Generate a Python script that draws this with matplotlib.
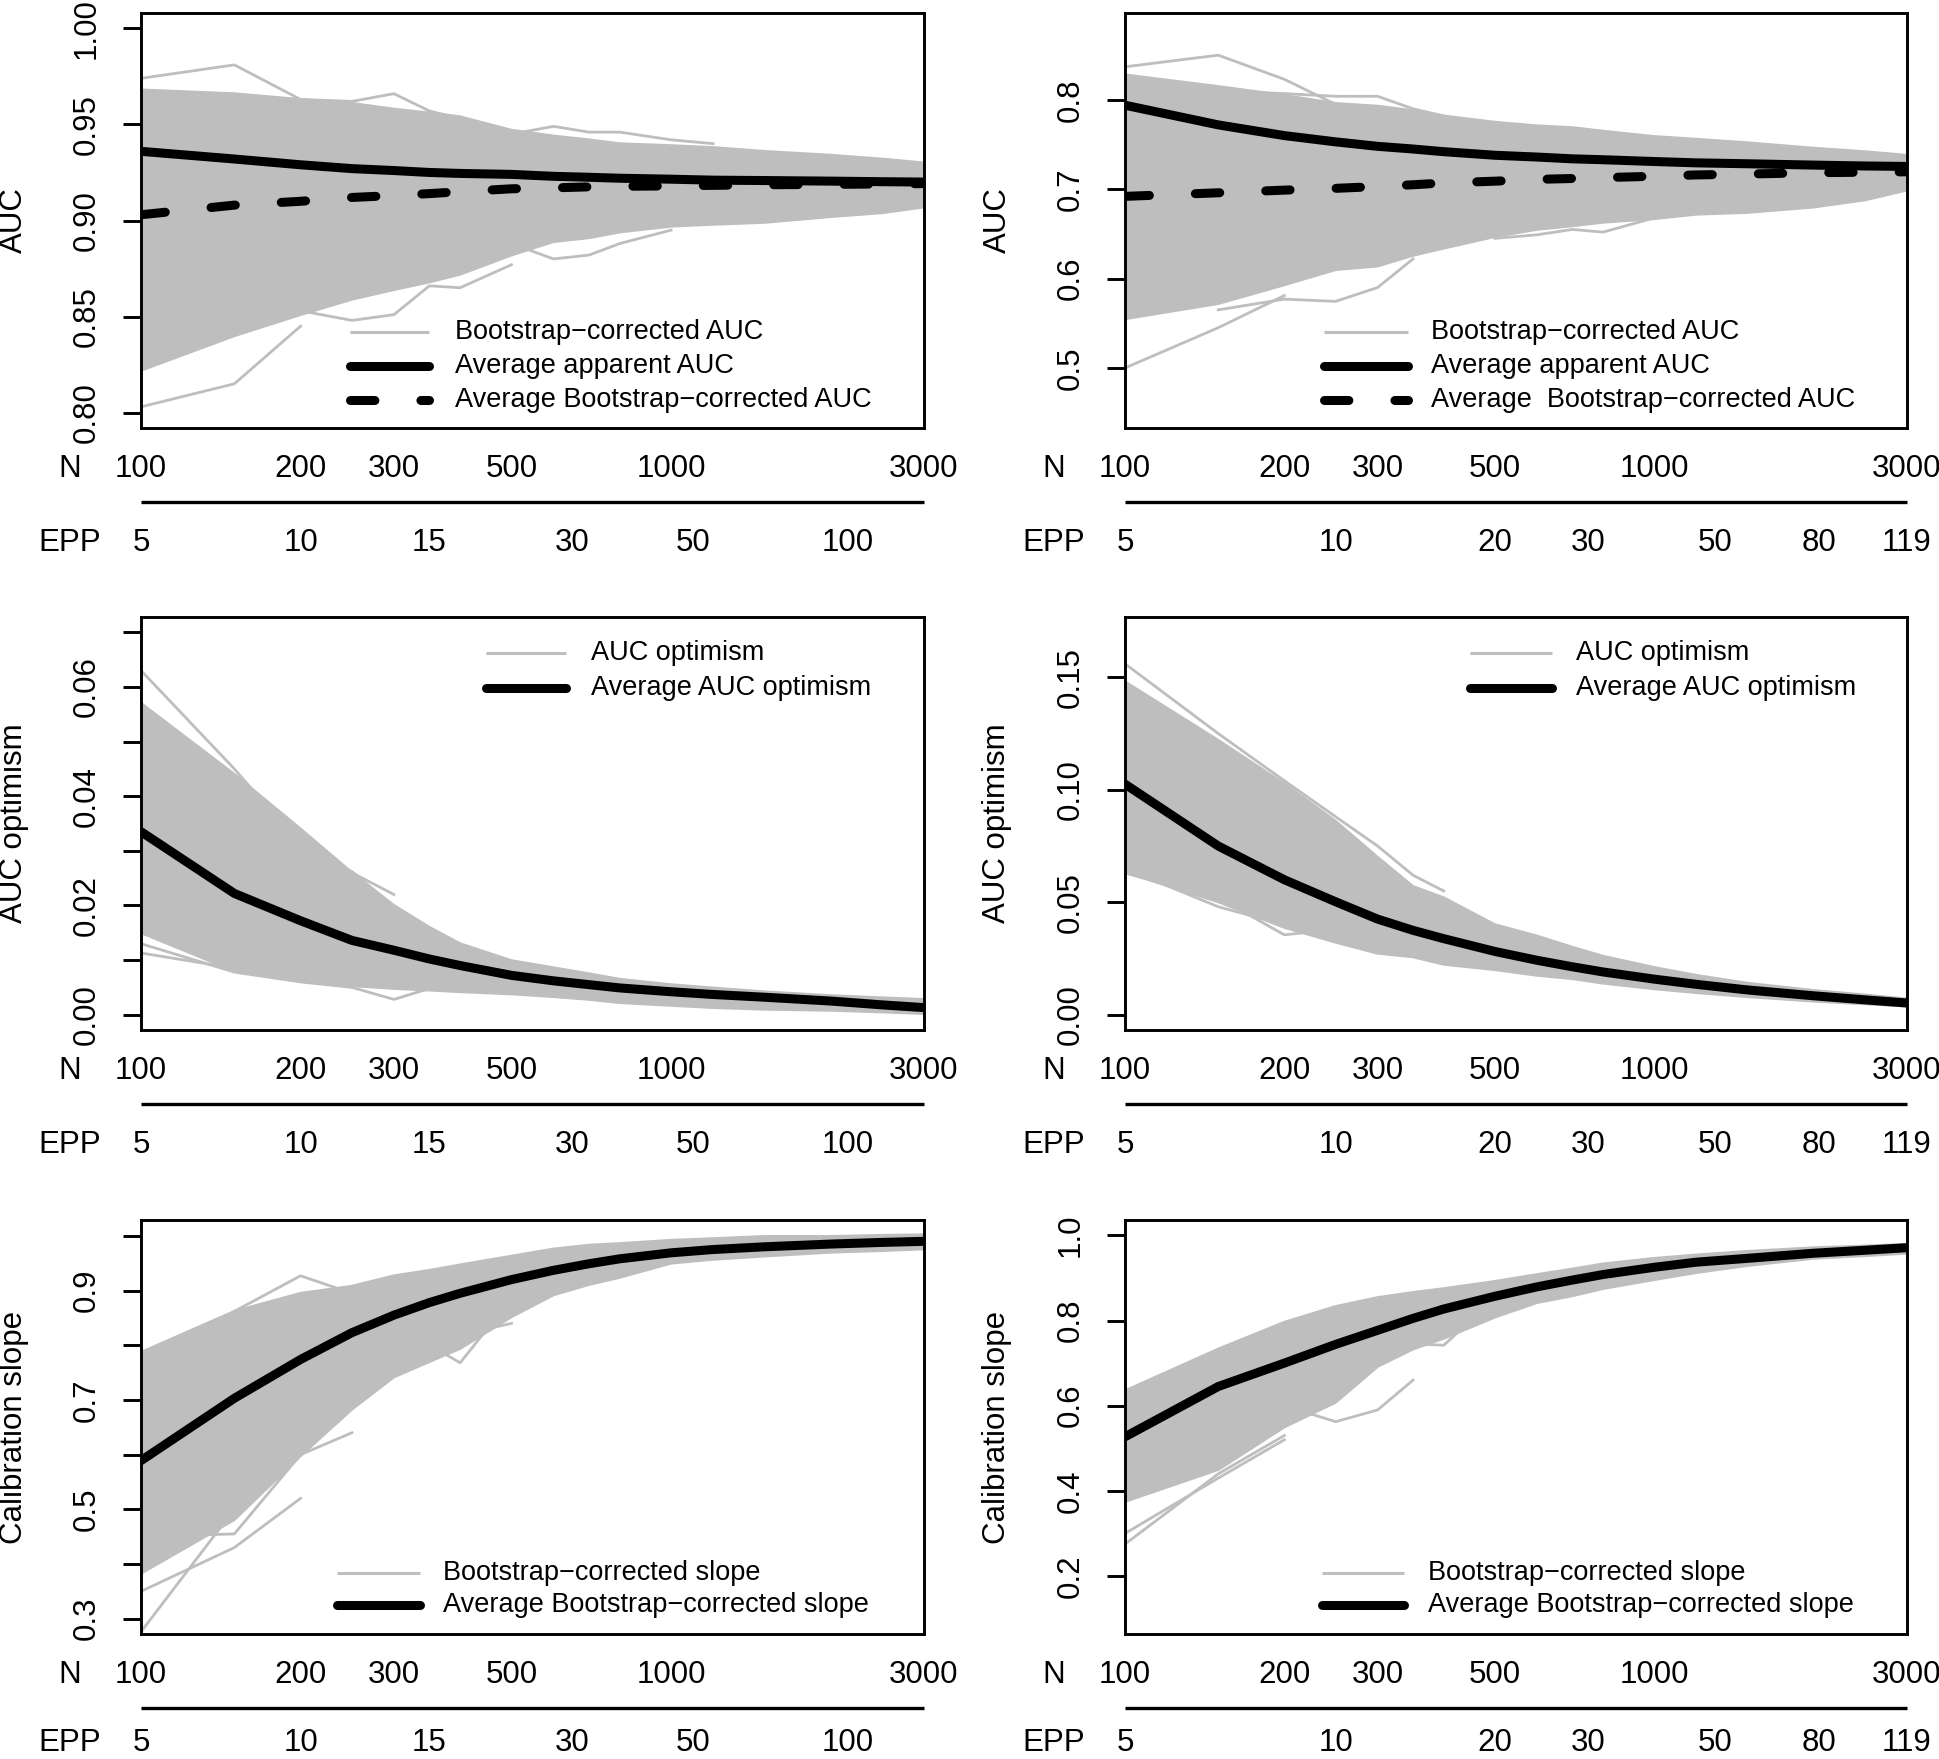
import matplotlib
matplotlib.use("Agg")
import matplotlib.pyplot as plt
import matplotlib.transforms as mtransforms
from matplotlib.ticker import NullLocator

plt.rcParams['font.family'] = ['Liberation Sans', 'DejaVu Sans']

# ---------------- data ----------------
N_grid = [100, 150, 200, 250, 300, 350, 400, 500, 600, 700, 800, 1000, 1200, 1500, 2000, 2500, 3000]
N_tick_vals = [100, 200, 300, 500, 1000, 3000]
N_tick_labels = ["100", "200", "300", "500", "1000", "3000"]
EPP_left_pos = [100, 200, 350, 650, 1100, 2150]
EPP_left_labels = ["5", "10", "15", "30", "50", "100"]
EPP_right_pos = [100, 250, 500, 750, 1300, 2050, 3000]
EPP_right_labels = ["5", "10", "20", "30", "50", "80", "119"]

# Panel A (top-left): AUC
A_apparent = [0.936, 0.932, 0.929, 0.927, 0.926, 0.925, 0.9245, 0.924, 0.923, 0.9225, 0.922, 0.9215, 0.921, 0.9208, 0.9205, 0.9202, 0.920]
A_corrected = [0.903, 0.908, 0.910, 0.912, 0.913, 0.914, 0.915, 0.9165, 0.917, 0.9175, 0.9178, 0.918, 0.9183, 0.9186, 0.9188, 0.919, 0.9192]
A_upper = [0.968, 0.966, 0.963, 0.961, 0.958, 0.956, 0.954, 0.947, 0.944, 0.942, 0.940, 0.939, 0.938, 0.936, 0.934, 0.932, 0.930]
A_lower = [0.822, 0.840, 0.851, 0.859, 0.864, 0.868, 0.872, 0.882, 0.889, 0.891, 0.894, 0.897, 0.898, 0.899, 0.902, 0.904, 0.907]
A_out_n = [[100, 150, 200, 250, 300, 350, 400], [100, 150, 200], [200, 250, 300, 350, 400, 500],
           [500, 600, 700, 800, 1000], [500, 600, 700, 800, 1000, 1200]]
A_out_v = [[0.974, 0.981, 0.963, 0.962, 0.966, 0.957, 0.953], [0.803, 0.815, 0.845],
           [0.853, 0.848, 0.851, 0.866, 0.865, 0.877], [0.888, 0.880, 0.882, 0.888, 0.895],
           [0.945, 0.949, 0.946, 0.946, 0.942, 0.940]]
A_yticks = [0.80, 0.85, 0.90, 0.95, 1.00]
A_ylabels = ["0.80", "0.85", "0.90", "0.95", "1.00"]
A_legend = ["Bootstrap\u2212corrected AUC", "Average apparent AUC", "Average Bootstrap\u2212corrected AUC"]

# Panel B (top-right): AUC
B_apparent = [0.794, 0.772, 0.760, 0.753, 0.748, 0.745, 0.742, 0.738, 0.736, 0.734, 0.733, 0.731, 0.7295, 0.7285, 0.727, 0.726, 0.7255]
B_corrected = [0.692, 0.696, 0.699, 0.701, 0.703, 0.705, 0.707, 0.709, 0.711, 0.712, 0.713, 0.7145, 0.716, 0.717, 0.7185, 0.719, 0.7195]
B_upper = [0.828, 0.815, 0.805, 0.796, 0.793, 0.788, 0.782, 0.775, 0.771, 0.769, 0.765, 0.759, 0.756, 0.752, 0.746, 0.742, 0.738]
B_lower = [0.555, 0.572, 0.593, 0.610, 0.614, 0.626, 0.634, 0.647, 0.655, 0.659, 0.663, 0.667, 0.672, 0.674, 0.680, 0.688, 0.699]
B_out_n = [[100, 150, 200, 250, 300], [150, 200, 250, 300, 350, 400], [100, 150, 200],
           [150, 200, 250, 300, 350], [500, 600, 700, 800, 1000]]
B_out_v = [[0.837, 0.850, 0.823, 0.795, 0.790], [0.810, 0.807, 0.804, 0.804, 0.790, 0.782],
           [0.500, 0.545, 0.581], [0.565, 0.577, 0.5745, 0.590, 0.622],
           [0.645, 0.649, 0.655, 0.652, 0.668]]
B_yticks = [0.5, 0.6, 0.7, 0.8]
B_ylabels = ["0.5", "0.6", "0.7", "0.8"]
B_legend = ["Bootstrap\u2212corrected AUC", "Average apparent AUC", "Average  Bootstrap\u2212corrected AUC"]

# Panel C (middle-left): AUC optimism
C_avg = [0.0335, 0.0222, 0.0172, 0.0136, 0.0118, 0.0102, 0.0090, 0.0072, 0.0062, 0.0055, 0.0049, 0.0042, 0.0037, 0.0032, 0.0025, 0.0018, 0.0013]
C_upper = [0.057, 0.044, 0.034, 0.026, 0.020, 0.016, 0.013, 0.0099, 0.0086, 0.0075, 0.0065, 0.0055, 0.0049, 0.0042, 0.0035, 0.0031, 0.0028]
C_lower = [0.015, 0.008, 0.0063, 0.0053, 0.0048, 0.0045, 0.0042, 0.0038, 0.0033, 0.0028, 0.0022, 0.0017, 0.0013, 0.0010, 0.0008, 0.0005, 0.0002]
C_out_n = [[100, 150, 200, 250, 300], [150, 200, 250, 300, 350, 400], [100, 150, 200, 250, 300, 350],
           [100, 150, 200]]
C_out_v = [[0.063, 0.045, 0.031, 0.026, 0.022], [0.040, 0.030, 0.0262, 0.0197, 0.015, 0.012],
           [0.013, 0.0078, 0.0060, 0.0050, 0.0028, 0.0048], [0.0113, 0.0085, 0.0065]]
C_yticks = [0.00, 0.01, 0.02, 0.03, 0.04, 0.05, 0.06, 0.07]
C_ylabels = ["0.00", "", "0.02", "", "0.04", "", "0.06", ""]
C_legend = ["AUC optimism", "Average AUC optimism"]

# Panel D (middle-right): AUC optimism
D_avg = [0.1025, 0.0750, 0.0600, 0.0502, 0.0425, 0.0375, 0.0338, 0.0281, 0.0242, 0.0213, 0.0190, 0.0158, 0.0135, 0.0110, 0.0084, 0.0066, 0.0052]
D_upper = [0.148, 0.122, 0.1026, 0.086, 0.070, 0.057, 0.052, 0.040, 0.035, 0.030, 0.026, 0.021, 0.0175, 0.0140, 0.0108, 0.0088, 0.0070]
D_lower = [0.0633, 0.0502, 0.0388, 0.0322, 0.0273, 0.0257, 0.0224, 0.020, 0.0175, 0.016, 0.014, 0.0115, 0.0098, 0.0080, 0.0060, 0.0048, 0.0038]
D_out_n = [[100, 150, 200, 250, 300, 350, 400], [100, 150, 200, 250], [100, 150, 200]]
D_out_v = [[0.156, 0.125, 0.104, 0.088, 0.075, 0.062, 0.055], [0.063, 0.052, 0.0355, 0.038],
           [0.065, 0.048, 0.040]]
D_yticks = [0.00, 0.05, 0.10, 0.15]
D_ylabels = ["0.00", "0.05", "0.10", "0.15"]
D_legend = ["AUC optimism", "Average AUC optimism"]

# Panel E (bottom-left): calibration slope
E_avg = [0.589, 0.703, 0.774, 0.823, 0.855, 0.878, 0.895, 0.920, 0.937, 0.949, 0.958, 0.969, 0.975, 0.980, 0.985, 0.988, 0.990]
E_upper = [0.787, 0.862, 0.895, 0.908, 0.927, 0.937, 0.947, 0.963, 0.976, 0.983, 0.986, 0.992, 0.995, 0.999, 0.999, 1.001, 1.002]
E_lower = [0.383, 0.481, 0.598, 0.683, 0.742, 0.770, 0.794, 0.852, 0.892, 0.911, 0.924, 0.950, 0.957, 0.963, 0.970, 0.973, 0.976]
E_out_n = [[100, 150, 200], [100, 150, 200, 250], [150, 200, 250], [300, 350, 400, 450, 500], [100, 150, 200]]
E_out_v = [[0.276, 0.50, 0.61], [0.45, 0.455, 0.60, 0.64], [0.862, 0.927, 0.895],
           [0.79, 0.80, 0.768, 0.83, 0.84], [0.35, 0.43, 0.52]]
E_yticks = [0.3, 0.4, 0.5, 0.6, 0.7, 0.8, 0.9, 1.0]
E_ylabels = ["0.3", "", "0.5", "", "0.7", "", "0.9", ""]
E_legend = ["Bootstrap\u2212corrected slope", "Average Bootstrap\u2212corrected slope"]

# Panel F (bottom-right): calibration slope
F_avg = [0.527, 0.645, 0.700, 0.744, 0.777, 0.805, 0.827, 0.857, 0.879, 0.895, 0.908, 0.925, 0.937, 0.946, 0.958, 0.965, 0.971]
F_upper = [0.635, 0.733, 0.796, 0.833, 0.854, 0.866, 0.875, 0.892, 0.908, 0.921, 0.933, 0.946, 0.954, 0.9625, 0.971, 0.975, 0.979]
F_lower = [0.375, 0.45, 0.55, 0.608, 0.692, 0.733, 0.758, 0.808, 0.842, 0.858, 0.875, 0.896, 0.9125, 0.929, 0.946, 0.952, 0.958]
F_out_n = [[100, 150, 200], [200, 250, 300, 350], [350, 400, 450, 500], [100, 150, 200]]
F_out_v = [[0.275, 0.44, 0.53], [0.60, 0.5625, 0.59, 0.66], [0.745, 0.742, 0.80, 0.82], [0.30, 0.43, 0.52]]
F_yticks = [0.2, 0.4, 0.6, 0.8, 1.0]
F_ylabels = ["0.2", "0.4", "0.6", "0.8", "1.0"]
F_legend = ["Bootstrap\u2212corrected slope", "Average Bootstrap\u2212corrected slope"]

# ---------------- style ----------------
W, H = 1940, 1759
DPI = 100
GRAY = "#BEBEBE"
GLW = 2.0       # gray line width (pt)
ALW = 6.5       # average line width (pt)
TICK_FS = 22.5
LEG_FS = 19.5
DASH = (0, (2.7, 5.1))

fig = plt.figure(figsize=(W / DPI, H / DPI), dpi=DPI)


def px_off(dx, dy):
    return mtransforms.ScaledTranslation(dx / DPI, dy / DPI, fig.dpi_scale_trans)


def panel(box, ylim, yticks, ylabels, ylabel, upper, lower, out_n, out_v, avgs,
          legend_labels, leg_styles, leg_x, leg_rows, epp_pos, epp_labels, epp_base=-123.4):
    x0, y0, x1, y1 = box   # pixel box (top-left origin)
    ax = fig.add_axes([x0 / W, 1 - y1 / H, (x1 - x0) / W, (y1 - y0) / H])
    ax.set_xscale('log')
    ax.set_xlim(100, 3000)
    ax.set_ylim(*ylim)
    ax.fill_between(N_grid, lower, upper, color=GRAY, lw=0, zorder=1)
    ax.plot(N_grid, upper, color=GRAY, lw=GLW, zorder=2)
    ax.plot(N_grid, lower, color=GRAY, lw=GLW, zorder=2)
    for n, v in zip(out_n, out_v):
        ax.plot(n, v, color=GRAY, lw=GLW, zorder=2)
    for vals, style in avgs:
        if style == 'dashed':
            ax.plot(N_grid, vals, color='black', lw=ALW, linestyle=DASH,
                    dash_capstyle='round', zorder=4)
        else:
            ax.plot(N_grid, vals, color='black', lw=ALW, solid_capstyle='round', zorder=4)

    for sp in ax.spines.values():
        sp.set_linewidth(2.1)
    ax.xaxis.set_major_locator(NullLocator())
    ax.xaxis.set_minor_locator(NullLocator())
    ax.set_yticks(yticks)
    ax.set_yticklabels(ylabels, rotation=90, va='center', ha='center')
    ax.tick_params(axis='y', length=13, width=2.1, pad=26, labelsize=TICK_FS, direction='out')

    # y label
    ax.text(0, 0.5, ylabel, transform=ax.transAxes + px_off(-127.5, 0), rotation=90,
            ha='center', va='center', rotation_mode='anchor', fontsize=TICK_FS)

    # N labels
    bl = mtransforms.blended_transform_factory(ax.transData, ax.transAxes)
    for n, lab in zip(N_tick_vals, N_tick_labels):
        ax.text(n, 0, lab, transform=bl + px_off(0, -49), ha='center', va='baseline',
                fontsize=TICK_FS, clip_on=False)
    ax.text(0, 0, "N", transform=ax.transAxes + px_off(-71.5, -49), ha='center',
            va='baseline', fontsize=TICK_FS)
    # EPP line and labels
    ax.plot([100, 3000], [0, 0], color='black', lw=2.4, transform=bl + px_off(0, -73.7),
            clip_on=False, solid_capstyle='butt')
    for n, lab in zip(epp_pos, epp_labels):
        ax.text(n, 0, lab, transform=bl + px_off(0, epp_base), ha='center', va='baseline',
                fontsize=TICK_FS, clip_on=False)
    ax.text(0, 0, "EPP", transform=ax.transAxes + px_off(-71.5, epp_base), ha='center',
            va='baseline', fontsize=TICK_FS)

    # legend (no box)
    lx0, lx1, tx = leg_x
    for lab, st, ry in zip(legend_labels, leg_styles, leg_rows):
        if st == 'gray':
            ax.plot([lx0, lx1], [ry, ry], color=GRAY, lw=GLW + 0.2, transform=ax.transAxes,
                    clip_on=False, solid_capstyle='butt')
        elif st == 'dashed':
            ax.plot([lx0, lx1], [ry, ry], color='black', lw=ALW, transform=ax.transAxes,
                    clip_on=False, linestyle=DASH, dash_capstyle='round')
        else:
            ax.plot([lx0, lx1], [ry, ry], color='black', lw=ALW, transform=ax.transAxes,
                    clip_on=False, solid_capstyle='round')
        ax.text(tx, ry, lab, transform=ax.transAxes, ha='left', va='center', fontsize=LEG_FS)
    return ax


LEFT = (141, 924)
RIGHT = (1125, 1907)
ROW1 = (13, 428)
ROW2 = (617, 1030)
ROW3 = (1220, 1634)

panel((LEFT[0], ROW1[0], LEFT[1], ROW1[1]), (0.792, 1.008), A_yticks, A_ylabels, "AUC",
      A_upper, A_lower, A_out_n, A_out_v, [(A_apparent, 'solid'), (A_corrected, 'dashed')],
      A_legend, ['gray', 'solid', 'dashed'], (0.2669, 0.3678, 0.4010), (0.2325, 0.1494, 0.0674),
      EPP_left_pos, EPP_left_labels)

panel((RIGHT[0], ROW1[0], RIGHT[1], ROW1[1]), (0.4328, 0.8972), B_yticks, B_ylabels, "AUC",
      B_upper, B_lower, B_out_n, B_out_v, [(B_apparent, 'solid'), (B_corrected, 'dashed')],
      B_legend, ['gray', 'solid', 'dashed'], (0.2545, 0.3619, 0.3913), (0.2325, 0.1494, 0.0674),
      EPP_right_pos, EPP_right_labels)

panel((LEFT[0], ROW2[0], LEFT[1], ROW2[1]), (-0.0028, 0.0728), C_yticks, C_ylabels, "AUC optimism",
      C_upper, C_lower, C_out_n, C_out_v, [(C_avg, 'solid')],
      C_legend, ['gray', 'solid'], (0.4404, 0.5430, 0.5747), (0.912, 0.827),
      EPP_left_pos, EPP_left_labels)

panel((RIGHT[0], ROW2[0], RIGHT[1], ROW2[1]), (-0.0068, 0.1768), D_yticks, D_ylabels, "AUC optimism",
      D_upper, D_lower, D_out_n, D_out_v, [(D_avg, 'solid')],
      D_legend, ['gray', 'solid'], (0.4412, 0.5456, 0.5772), (0.912, 0.827),
      EPP_right_pos, EPP_right_labels)

panel((LEFT[0], ROW3[0], LEFT[1], ROW3[1]), (0.272, 1.029), E_yticks, E_ylabels, "Calibration slope",
      E_upper, E_lower, E_out_n, E_out_v, [(E_avg, 'solid')],
      E_legend, ['gray', 'solid'], (0.2507, 0.3558, 0.3858), (0.148, 0.071),
      EPP_left_pos, EPP_left_labels, epp_base=-117)

panel((RIGHT[0], ROW3[0], RIGHT[1], ROW3[1]), (0.064, 1.036), F_yticks, F_ylabels, "Calibration slope",
      F_upper, F_lower, F_out_n, F_out_v, [(F_avg, 'solid')],
      F_legend, ['gray', 'solid'], (0.2513, 0.3573, 0.3873), (0.148, 0.071),
      EPP_right_pos, EPP_right_labels, epp_base=-117)

fig.savefig("out.png", dpi=DPI)
